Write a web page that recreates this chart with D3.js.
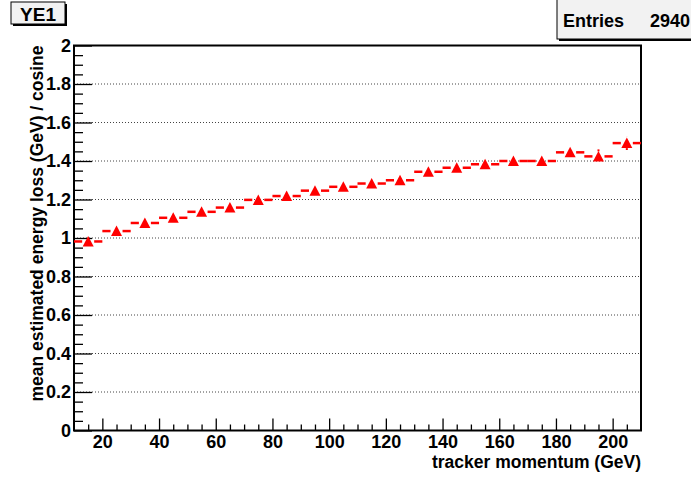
<!DOCTYPE html>
<html>
<head>
<meta charset="utf-8">
<script src="https://cdn.jsdelivr.net/npm/d3@7"></script>
<style>
  body { margin: 0; background: #fff; }
  svg text { font-family: "Liberation Sans", Arial, Helvetica, sans-serif; font-weight: bold; fill: #000; }
</style>
</head>
<body>
<svg id="plot" width="691" height="478"></svg>
<script>
// histogram YE1 : mean estimated energy loss per momentum bin
var binCenters = [15, 25, 35, 45, 55, 65, 75, 85, 95, 105, 115, 125, 135, 145, 155, 165, 175, 185, 195, 205];
var meanLoss = [0.982, 1.036, 1.078, 1.105, 1.136, 1.158, 1.198, 1.218, 1.246, 1.266, 1.283, 1.300, 1.344, 1.365, 1.383, 1.400, 1.400, 1.445, 1.424, 1.493];
var lossErr = [0.012, 0.010, 0.010, 0.010, 0.011, 0.011, 0.012, 0.012, 0.013, 0.013, 0.014, 0.015, 0.016, 0.017, 0.018, 0.019, 0.021, 0.023, 0.026, 0.036];
var binWidth = 10;
var xMajor = [20, 40, 60, 80, 100, 120, 140, 160, 180, 200];
var yMajor = [0, 0.2, 0.4, 0.6, 0.8, 1, 1.2, 1.4, 1.6, 1.8, 2];
var histTitle = "YE1";
var entries = 2940;

// frame edges (window.top is read-only, so use other names)
var padL = 74, padR = 641, padT = 45.5, padB = 430.5;

var svg = d3.select("#plot");

var x = d3.scaleLinear().domain([10, 210]).range([padL, padR]);
var y = d3.scaleLinear().domain([0, 2]).range([padB, padT]);

// grid lines (y only)
svg.append("g").selectAll("line")
    .data(yMajor.filter(function(d) { return d > 0 && d < 2; }))
    .enter().append("line")
    .attr("x1", padL).attr("x2", padR)
    .attr("y1", function(d) { return y(d); })
    .attr("y2", function(d) { return y(d); })
    .attr("stroke", "#444")
    .attr("stroke-width", 1)
    .attr("stroke-dasharray", "1,2");

// x axis: major + minor ticks pointing up
var xMinor = d3.range(15, 210, 5).filter(function(d) { return d % 20 != 0; });
svg.append("g").attr("transform", "translate(0," + padB + ")")
    .call(d3.axisBottom(x).tickValues(xMajor).tickSizeInner(-12).tickSizeOuter(0).tickPadding(5));
svg.append("g").attr("transform", "translate(0," + padB + ")")
    .call(d3.axisBottom(x).tickValues(xMinor).tickSizeInner(-6).tickSizeOuter(0).tickFormat(""));

// y axis
var yMinor = d3.range(0.05, 2, 0.05).filter(function(d) { return Math.abs(d / 0.2 - Math.round(d / 0.2)) > 0.01; });
svg.append("g").attr("transform", "translate(" + padL + ",0)")
    .call(d3.axisLeft(y).tickValues(yMajor).tickSizeInner(-18).tickSizeOuter(0).tickPadding(3).tickFormat(d3.format("~g")));
svg.append("g").attr("transform", "translate(" + padL + ",0)")
    .call(d3.axisLeft(y).tickValues(yMinor).tickSizeInner(-9).tickSizeOuter(0).tickFormat(""));

svg.selectAll(".domain").remove();
svg.selectAll(".tick line").attr("stroke", "#000").attr("stroke-width", 1.3);
svg.selectAll(".tick text").attr("font-family", null).attr("font-size", null).style("font-size", "18px");

// frame
svg.append("rect")
    .attr("x", padL).attr("y", padT)
    .attr("width", padR - padL).attr("height", padB - padT)
    .attr("fill", "none").attr("stroke", "#000").attr("stroke-width", 2);

// axis titles
svg.append("text")
    .attr("x", padR).attr("y", 468)
    .attr("text-anchor", "end")
    .style("font-size", "17.5px")
    .text("tracker momentum (GeV)");

svg.append("text")
    .attr("transform", "translate(43," + padT + ") rotate(-90)")
    .attr("text-anchor", "end")
    .style("font-size", "17.5px")
    .text("mean estimated energy loss (GeV) / cosine");

// data: horizontal bin bars, error bars, triangle markers
var gap = 6;
var halfMarker = 5;
var pts = svg.append("g");
binCenters.forEach(function(c, i) {
    var cx = x(c), cy = y(meanLoss[i]);
    var xl = x(c - binWidth / 2), xr = x(c + binWidth / 2);
    pts.append("line").attr("x1", xl).attr("x2", cx - gap).attr("y1", cy).attr("y2", cy)
        .attr("stroke", "red").attr("stroke-width", 2.5);
    pts.append("line").attr("x1", cx + gap).attr("x2", xr).attr("y1", cy).attr("y2", cy)
        .attr("stroke", "red").attr("stroke-width", 2.5);
    var yHi = y(meanLoss[i] + lossErr[i]), yLo = y(meanLoss[i] - lossErr[i]);
    if (cy - yHi > halfMarker) {
        pts.append("line").attr("x1", cx).attr("x2", cx).attr("y1", yHi).attr("y2", cy - halfMarker - 2)
            .attr("stroke", "red").attr("stroke-width", 2);
        pts.append("line").attr("x1", cx).attr("x2", cx).attr("y1", cy + halfMarker).attr("y2", yLo)
            .attr("stroke", "red").attr("stroke-width", 2);
    }
});

pts.selectAll("path.marker")
    .data(binCenters)
    .enter().append("path")
    .attr("class", "marker")
    .attr("d", function(c, i) {
        var cx = x(c), cy = y(meanLoss[i]);
        return "M" + (cx - 5.5) + "," + (cy + 5) + "L" + cx + "," + (cy - 5.5) + "L" + (cx + 5.5) + "," + (cy + 5) + "Z";
    })
    .attr("fill", "red");

// title box
svg.append("rect").attr("x", 13).attr("y", 4).attr("width", 54).attr("height", 22).attr("fill", "#000");
svg.append("rect").attr("x", 11).attr("y", 2).attr("width", 54).attr("height", 22)
    .attr("fill", "#f2f2f2").attr("stroke", "#000").attr("stroke-width", 1);
svg.append("text").attr("x", 38).attr("y", 21).attr("text-anchor", "middle")
    .style("font-size", "19px").text(histTitle);

// stats box
svg.append("rect").attr("x", 559).attr("y", -2).attr("width", 140).attr("height", 43).attr("fill", "#000");
svg.append("rect").attr("x", 557).attr("y", -2).attr("width", 140).attr("height", 41)
    .attr("fill", "#f2f2f2").attr("stroke", "#000").attr("stroke-width", 1);
svg.append("text").attr("x", 563).attr("y", 27).style("font-size", "18px").text("Entries");
svg.append("text").attr("x", 690).attr("y", 27).attr("text-anchor", "end").style("font-size", "18px").text(entries);
</script>
</body>
</html>
